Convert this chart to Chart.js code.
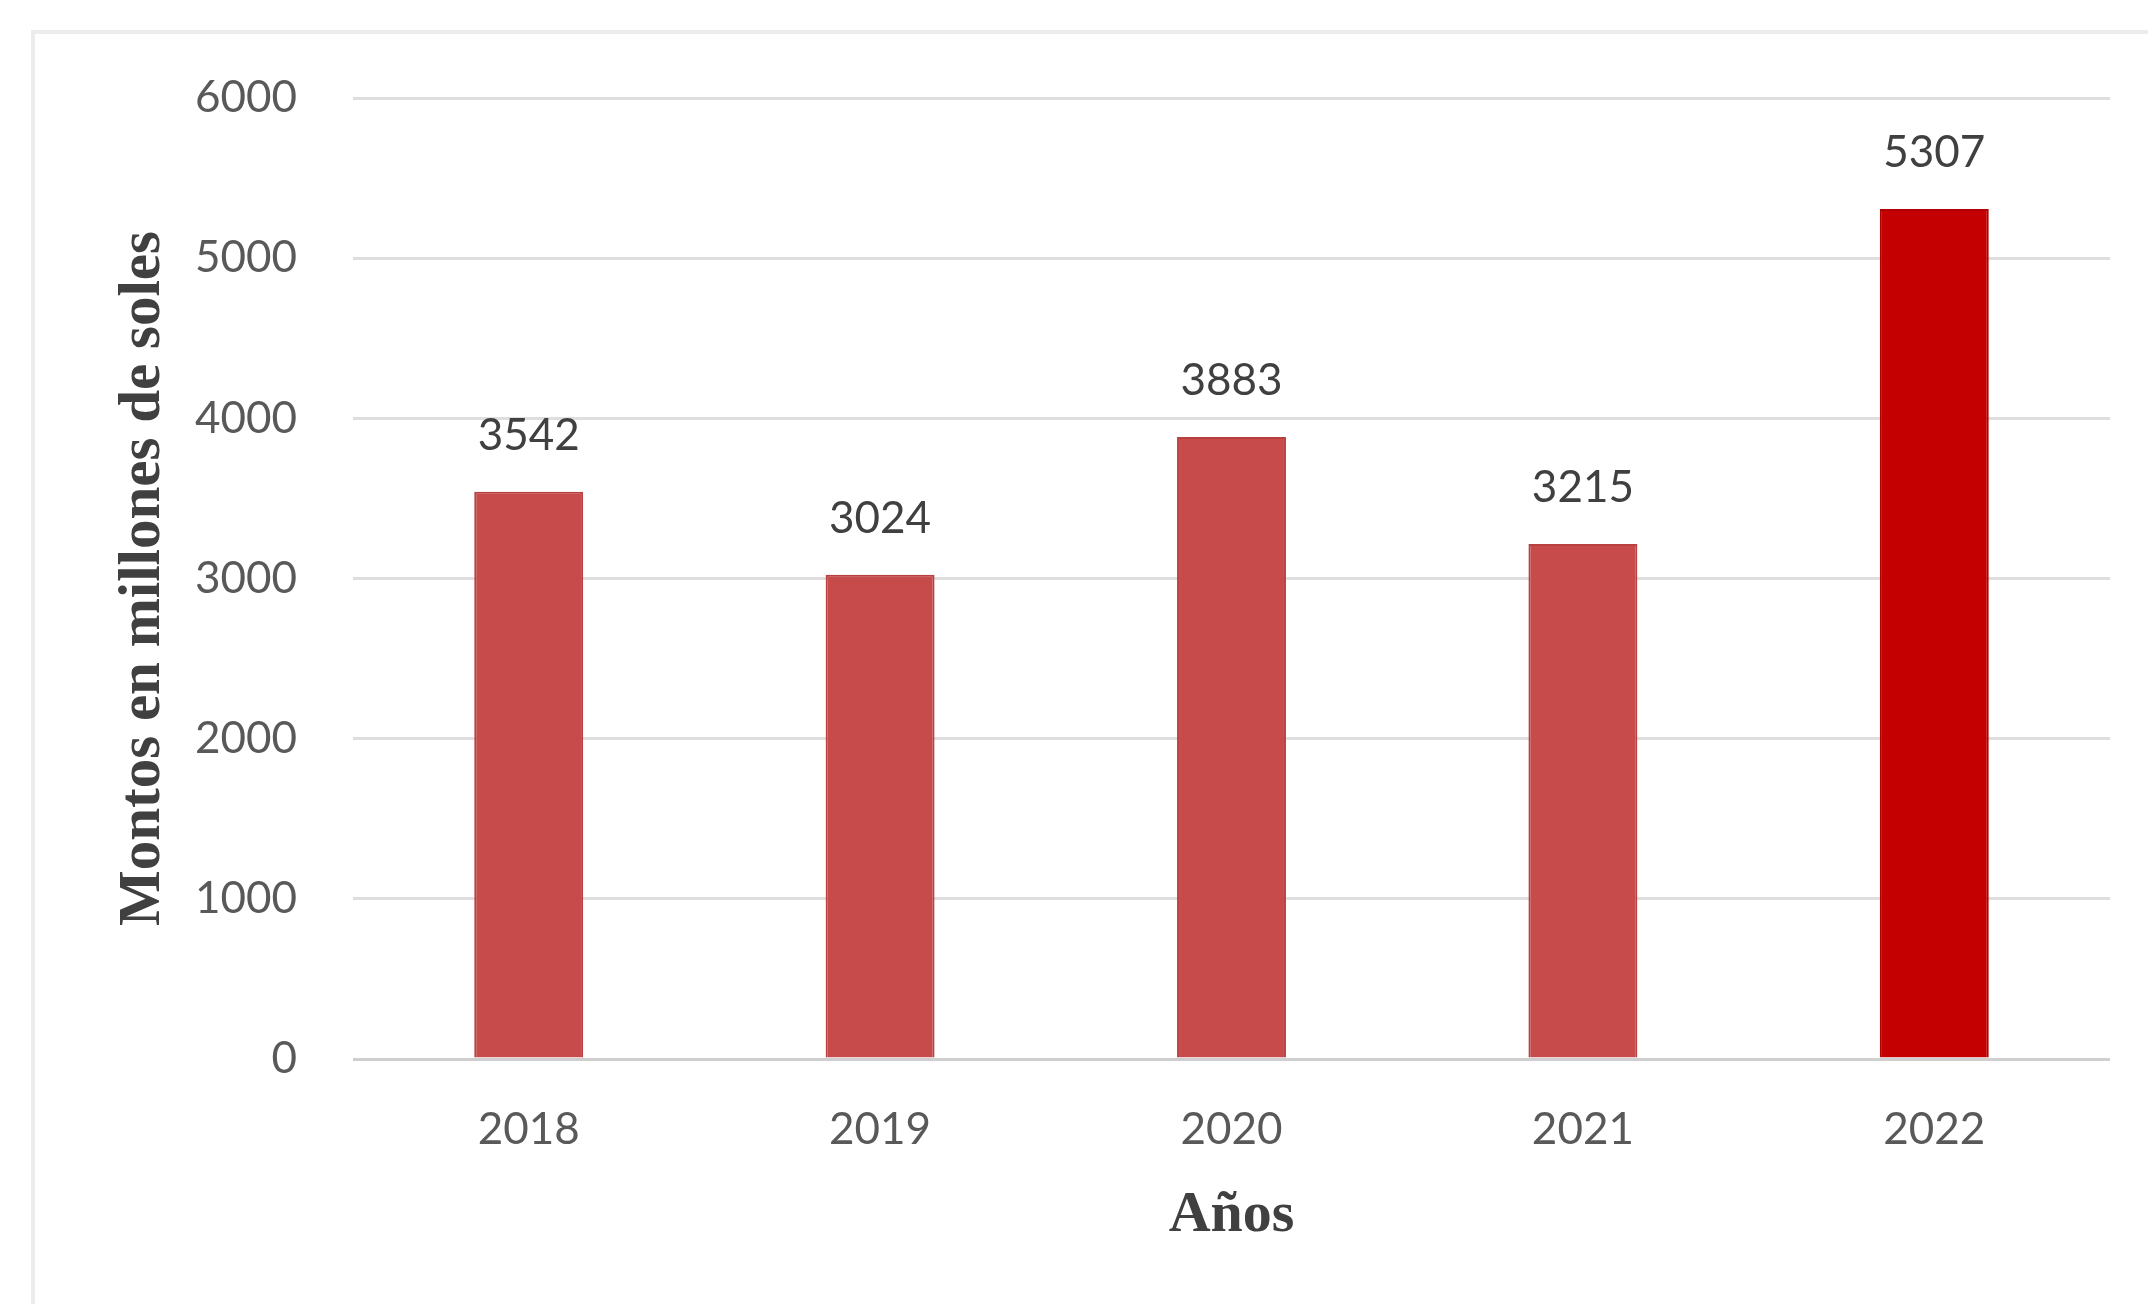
<!DOCTYPE html>
<html lang="es">
<head>
  <meta charset="UTF-8" />
  <title>Montos en millones de soles</title>
  <script src="https://cdn.jsdelivr.net/npm/chart.js"></script>
  <style>
    html, body {
      margin: 0;
      padding: 0;
      background: #fff;
    }
    .wrap {
      position: relative;
      width: 2148px;
      height: 1304px;
    }
    .frame {
      position: absolute;
      left: 31px;
      top: 30px;
      right: 0;
      bottom: 0;
      border-left: 4px solid #ececec;
      border-top: 4px solid #ececec;
    }
    canvas {
      position: absolute;
      left: 0;
      top: 0;
    }
  </style>
</head>
<body>
  <div class="wrap">
    <div class="frame"></div>
    <canvas id="chart" width="2148" height="1304"></canvas>
  </div>

  <script>
    const years = ['2018', '2019', '2020', '2021', '2022'];
    const montos = [3542, 3024, 3883, 3215, 5307];
    const yTicks = [0, 1000, 2000, 3000, 4000, 5000, 6000];

    const barColor = '#c84b4b';
    const lastColor = '#c40000';

    // draws the value above each bar, like the data labels in the original
    const valueLabels = {
      id: 'valueLabels',
      afterDatasetsDraw(chart) {
        const ctx = chart.ctx;
        const meta = chart.getDatasetMeta(0);
        ctx.save();
        ctx.font = '44px Lato';
        ctx.fillStyle = '#404040';
        ctx.textAlign = 'center';
        ctx.textBaseline = 'middle';
        meta.data.forEach((bar, i) => {
          ctx.fillText(String(montos[i]), bar.x, bar.y - 56);
        });
        ctx.restore();
      }
    };

    const ctx = document.getElementById('chart').getContext('2d');
    new Chart(ctx, {
      type: 'bar',
      data: {
        labels: years,
        datasets: [{
          data: montos,
          backgroundColor: montos.map((v, i) => i === montos.length - 1 ? lastColor : barColor),
          borderColor: montos.map((v, i) => i === montos.length - 1 ? '#b00000' : '#b94040'),
          borderWidth: 2,
          borderSkipped: 'bottom',
          categoryPercentage: 1,
          barPercentage: 0.31
        }]
      },
      options: {
        responsive: false,
        animation: false,
        layout: {
          padding: { left: 0, top: 98, right: 38, bottom: 0 }
        },
        plugins: {
          legend: { display: false },
          tooltip: { enabled: false }
        },
        scales: {
          x: {
            grid: { display: false, drawTicks: false },
            border: { display: false },
            ticks: {
              padding: 44,
              color: '#595959',
              font: { family: 'Lato', size: 44 }
            },
            title: {
              display: true,
              text: 'Años',
              color: '#404040',
              padding: { top: 0, bottom: 53 },
              font: { family: 'Liberation Serif', size: 58, weight: 'bold' }
            },
            afterFit(scale) { scale.height = 245; }
          },
          y: {
            min: 0,
            max: 6000,
            afterBuildTicks(scale) {
              scale.ticks = yTicks.map(v => ({ value: v }));
            },
            grid: {
              color: ctx => ctx.tick && ctx.tick.value === 0 ? '#cfcfcf' : '#dedede',
              lineWidth: 3,
              drawTicks: false
            },
            border: { display: false },
            ticks: {
              padding: 56,
              color: '#595959',
              font: { family: 'Lato', size: 44 },
              callback: v => String(v)
            },
            title: {
              display: true,
              text: 'Montos en millones de soles',
              color: '#404040',
              padding: { top: 108, bottom: 0 },
              font: { family: 'Liberation Serif', size: 59, weight: 'bold' }
            },
            afterFit(scale) { scale.width = 353; }
          }
        }
      },
      plugins: [valueLabels]
    });
  </script>
</body>
</html>
